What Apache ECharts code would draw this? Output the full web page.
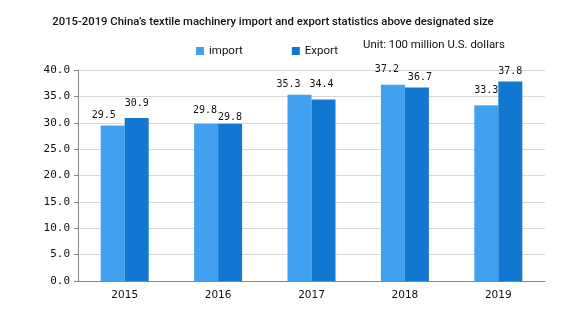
<!DOCTYPE html>
<html><head><meta charset="utf-8">
<script src="https://cdn.jsdelivr.net/npm/echarts@6/dist/echarts.min.js"></script>
<style>html,body{margin:0;padding:0;background:#fff}#c{width:576px;height:327px}</style>
</head><body><div id="c"></div>
<script>
const categories = ['2015','2016','2017','2018','2019'];
const importValues = [29.5, 29.8, 35.3, 37.2, 33.3];
const exportValues = [30.9, 29.8, 34.4, 36.7, 37.8];
// label nudges (style only) [dx, dy]
const importLabelNudge = [[-9,0],[-1,-3],[-11,0],[-6,-5],[0,-5]];
const exportLabelNudge = [[0,-5],[0,4],[-2,-5],[3,0],[0,0]];
const chart = echarts.init(document.getElementById('c'));
const mono = '"DejaVu Sans Mono", monospace';
const sans = 'Roboto, sans-serif';
const withNudge = (vals, nudge) => vals.map((v, i) => ({value: v, label: {offset: nudge[i]}}));
const labelStyle = {show: true, position: 'top', distance: 5, fontFamily: mono, fontSize: 10, color: '#111', formatter: p => p.value.toFixed(1)};
chart.setOption({
  animation: false,
  title: {
    text: '2015-2019 China\u2019s textile machinery import and export statistics above designated size',
    left: 268, textAlign: 'center', top: 12,
    textStyle: {fontFamily: sans, fontSize: 11.3, fontWeight: 500, color: '#111'}
  },
  legend: {
    left: 191, top: 40, itemWidth: 8, itemHeight: 8, itemGap: 49, icon: 'rect',
    textStyle: {fontFamily: sans, fontSize: 11.5, color: '#111'},
    data: ['import', 'Export']
  },
  graphic: [{type: 'text', left: 363, top: 40, style: {text: 'Unit: 100 million U.S. dollars', font: '11.4px Roboto, sans-serif', fill: '#111'}}],
  grid: {left: 78, right: 31, top: 70, bottom: 46},
  xAxis: {
    type: 'category', data: categories,
    axisLine: {lineStyle: {color: '#888'}},
    axisTick: {length: 5, lineStyle: {color: '#888'}},
    axisLabel: {fontFamily: '"DejaVu Sans", sans-serif', fontSize: 10.5, color: '#111', margin: 9}
  },
  yAxis: {
    type: 'value', min: 0, max: 40, interval: 5,
    axisLine: {show: true, lineStyle: {color: '#888'}},
    axisTick: {show: true, length: 4, lineStyle: {color: '#888'}},
    splitLine: {lineStyle: {color: '#d8d8d8'}},
    axisLabel: {fontFamily: mono, fontSize: 11, color: '#111', margin: 8, formatter: v => v.toFixed(1)}
  },
  series: [
    {name: 'import', type: 'bar', data: withNudge(importValues, importLabelNudge), barWidth: 24, barGap: '0%',
     itemStyle: {color: '#42a0f0'}, label: labelStyle},
    {name: 'Export', type: 'bar', data: withNudge(exportValues, exportLabelNudge), barWidth: 24, barGap: '0%',
     itemStyle: {color: '#1177d0'}, label: labelStyle}
  ]
});
</script></body></html>
